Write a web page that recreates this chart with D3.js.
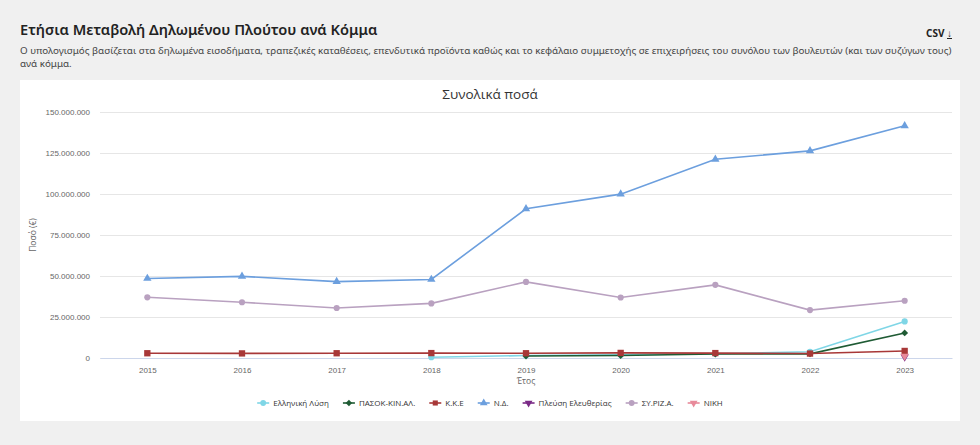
<!DOCTYPE html>
<html>
<head>
<meta charset="utf-8">
<script src="https://cdn.jsdelivr.net/npm/d3@7"></script>
<style>
  body { margin: 0; background: #f0f0f0; font-family: "Noto Sans", sans-serif; }
  #head { position: absolute; left: 20px; top: 19px; width: 945px; }
  #head h1 { margin: 0; font-size: 14.6px; font-weight: 600; color: #222; }
  #head p { margin: 6px 0 0 0; font-size: 9.8px; line-height: 12.5px; color: #444; }
  #csv { position: absolute; right: 28px; top: 26px; font-size: 10px; font-weight: 700; color: #222; }
  #csv span { text-decoration: underline; font-weight: 400; }
  #my_dataviz { position: absolute; left: 20px; top: 80px; }
</style>
</head>
<body>
<div id="head">
  <h1>Ετήσια Μεταβολή Δηλωμένου Πλούτου ανά Κόμμα</h1>
  <p>Ο υπολογισμός βασίζεται στα δηλωμένα εισοδήματα, τραπεζικές καταθέσεις, επενδυτικά προϊόντα καθώς και το κεφάλαιο συμμετοχής σε επιχειρήσεις του συνόλου των βουλευτών (και των συζύγων τους) ανά κόμμα.</p>
</div>
<div id="csv">CSV <span>↓</span></div>
<div id="my_dataviz"></div>
<script>
// data
var years = ["2015", "2016", "2017", "2018", "2019", "2020", "2021", "2022", "2023"];
var parties = ["Ελληνική Λύση", "ΠΑΣΟΚ-ΚΙΝ.ΑΛ.", "Κ.Κ.Ε", "Ν.Δ.", "Πλεύση Ελευθερίας", "ΣΥ.ΡΙΖ.Α.", "ΝΙΚΗ"];
var elLysi = [null, null, null, 500000, 1500000, 2000000, 2600000, 3800000, 22300000];
var pasok = [null, null, null, null, 1200000, 1500000, 2400000, 2500000, 15300000];
var kke = [2900000, 2800000, 2900000, 3000000, 2900000, 3100000, 3000000, 2700000, 4300000];
var nd = [48500000, 49800000, 46600000, 47900000, 91000000, 99900000, 121200000, 126300000, 141600000];
var plefsi = [null, null, null, null, null, null, null, null, 600000];
var syriza = [37000000, 34000000, 30500000, 33300000, 46400000, 36900000, 44600000, 29200000, 34900000];
var niki = [null, null, null, null, null, null, null, null, 1200000];
var yTicks = [0, 25000000, 50000000, 75000000, 100000000, 125000000, 150000000];

var seriesValues = [elLysi, pasok, kke, nd, plefsi, syriza, niki];
var colors = ["#7fd6e6", "#1f5b34", "#a83838", "#6c9fde", "#7a2a86", "#b9a1c0", "#e88a9a"];
var symbols = [d3.symbolCircle, d3.symbolDiamond2, d3.symbolSquare, d3.symbolTriangle, "down", d3.symbolCircle, "down"];

// set the dimensions and margins of the graph
var W = 940, H = 341;
var margin = { top: 32, right: 8, bottom: 63, left: 80 },
  width = W - margin.left - margin.right,
  height = H - margin.top - margin.bottom;

var root = d3.select("#my_dataviz").append("svg")
  .attr("width", W).attr("height", H)
  .style("font-family", "'Open Sans', sans-serif");
root.append("rect").attr("width", W).attr("height", H).attr("fill", "#fff");

root.append("text").attr("x", W / 2).attr("y", 19).attr("text-anchor", "middle")
  .attr("font-size", 13.5).attr("fill", "#333").text("Συνολικά ποσά");

var svg = root.append("g").attr("transform", "translate(" + margin.left + "," + margin.top + ")");

var x = d3.scalePoint().domain(years).range([0, width]).padding(0.5);
var y = d3.scaleLinear().domain([0, 150000000]).range([height, 0]);

var fmt = function (d) { return d3.format(",")(d).replace(/,/g, "."); };

// grid + y labels
var yAxis = svg.append("g").call(d3.axisLeft(y).tickValues(yTicks).tickSize(-width).tickFormat(fmt));
yAxis.select(".domain").remove();
yAxis.selectAll(".tick line").attr("stroke", "#e6e6e6");
yAxis.selectAll(".tick text").attr("x", -10).attr("fill", "#666").attr("font-size", 8);

// x axis
var xAxis = svg.append("g").attr("transform", "translate(0," + height + ")")
  .call(d3.axisBottom(x).tickSize(0).tickPadding(9));
xAxis.select(".domain").attr("stroke", "#ccd6eb");
xAxis.selectAll(".tick text").attr("fill", "#666").attr("font-size", 8);

svg.append("text").attr("x", width / 2).attr("y", height + 26).attr("text-anchor", "middle")
  .attr("font-size", 8.5).attr("fill", "#666").text("Έτος");
svg.append("text").attr("transform", "translate(-64," + height / 2 + ") rotate(-90)")
  .attr("text-anchor", "middle").attr("font-size", 8.5).attr("fill", "#666").text("Ποσό (€)");

function markerPath(s, size) {
  if (s === "down") return d3.symbol(d3.symbolTriangle, size)();
  return d3.symbol(s, size)();
}

var line = d3.line()
  .defined(function (d) { return d != null; })
  .x(function (d, i) { return x(years[i]); })
  .y(function (d) { return y(d); });

seriesValues.forEach(function (vals, k) {
  svg.append("path").datum(vals)
    .attr("fill", "none").attr("stroke", colors[k]).attr("stroke-width", 1.6)
    .attr("d", line);
  svg.selectAll(".m" + k)
    .data(vals.map(function (v, i) { return { v: v, i: i }; }).filter(function (d) { return d.v != null; }))
    .enter().append("path")
    .attr("d", markerPath(symbols[k], k === 2 ? 40 : 30))
    .attr("transform", function (d) {
      return "translate(" + x(years[d.i]) + "," + y(d.v) + ")" + (symbols[k] === "down" ? " rotate(180)" : "");
    })
    .attr("fill", colors[k]);
});

// legend
var legend = root.append("g").attr("transform", "translate(0," + (H - 18) + ")");
var items = legend.selectAll("g").data(parties).enter().append("g");
items.append("line").attr("x1", 0).attr("x2", 12).attr("stroke", function (d, i) { return colors[i]; }).attr("stroke-width", 1.6);
items.append("path").attr("transform", function (d, i) { return "translate(6,0)" + (symbols[i] === "down" ? " rotate(180)" : ""); })
  .attr("d", function (d, i) { return markerPath(symbols[i], 26); })
  .attr("fill", function (d, i) { return colors[i]; });
items.append("text").attr("x", 16).attr("dy", "0.35em").attr("font-size", 8).attr("fill", "#333").text(function (d) { return d; });

var pos = 0, offs = [];
items.each(function () {
  offs.push(pos);
  pos += this.getBBox().width + 14;
});
pos -= 14;
var start = (W - pos) / 2;
items.attr("transform", function (d, i) { return "translate(" + (start + offs[i]) + ",0)"; });
</script>
</body>
</html>
